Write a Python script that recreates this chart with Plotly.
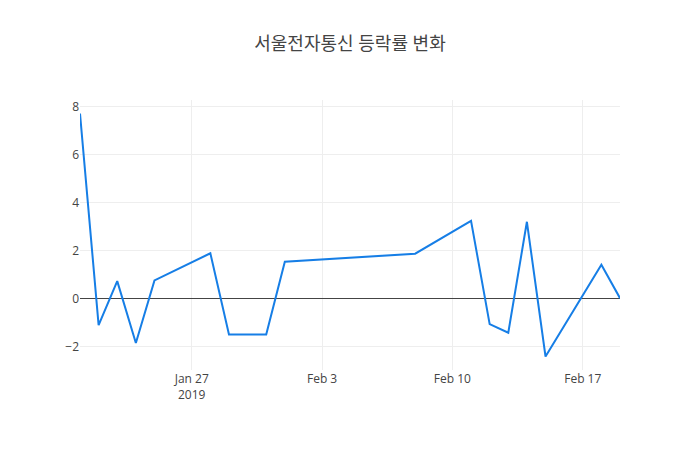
import plotly.graph_objects as go

dates = ["2019-01-21", "2019-01-22", "2019-01-23", "2019-01-24", "2019-01-25",
         "2019-01-28", "2019-01-29", "2019-01-31", "2019-02-01", "2019-02-08",
         "2019-02-11", "2019-02-12", "2019-02-13", "2019-02-14", "2019-02-15",
         "2019-02-18", "2019-02-19"]
rates = [7.72, -1.09, 0.74, -1.84, 0.77,
         1.90, -1.48, -1.48, 1.55, 1.88,
         3.25, -1.05, -1.41, 3.21, -2.40,
         1.42, 0.03]

fig = go.Figure()
fig.add_trace(go.Scatter(x=dates, y=rates, mode="lines",
                         line=dict(color="rgb(22,126,230)", width=2)))
fig.update_layout(
    width=700, height=450,
    title=dict(text="서울전자통신 등락률 변화", x=0.5, xanchor="center",
               font=dict(size=18, color="#444")),
    paper_bgcolor="white", plot_bgcolor="white",
    margin=dict(l=80, r=80, t=100, b=80),
    showlegend=False,
    font=dict(family="Open Sans, Noto Sans CJK KR, sans-serif", color="#444"),
)
fig.update_xaxes(showgrid=True, gridcolor="#eee", zeroline=False, showline=False)
fig.update_yaxes(showgrid=True, gridcolor="#eee", zeroline=True, zerolinecolor="#444",
                 zerolinewidth=1, showline=False)
fig.write_html("out.html")
